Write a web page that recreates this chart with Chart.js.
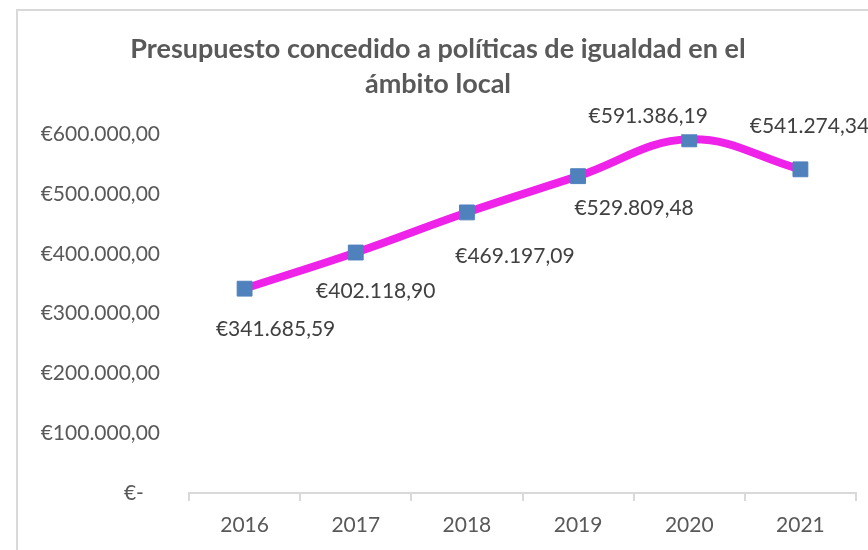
<!DOCTYPE html>
<html>
<head>
<meta charset="utf-8">
<script src="https://cdn.jsdelivr.net/npm/chart.js@4"></script>
<style>
    body { margin: 0; background: white; }
    #frame {
        position: absolute;
        left: 16px;
        top: 9px;
        width: 900px;
        height: 600px;
        border-left: 2px solid #d9d9d9;
        border-top: 2px solid #d9d9d9;
    }
    #wrap { position: absolute; left: 0; top: 0; width: 868px; height: 550px; }
</style>
</head>
<body>
<div id="frame"></div>
<div id="wrap"><canvas id="chart" width="868" height="550"></canvas></div>
<script>
// DATA

const years = ["2016", "2017", "2018", "2019", "2020", "2021"];
const budget = [341685.59, 402118.90, 469197.09, 529809.48, 591386.19, 541274.34];
const yTicks = [0, 100000, 200000, 300000, 400000, 500000, 600000];
const titleLines = ["Presupuesto concedido a políticas de igualdad en el", "ámbito local"];

// label placement next to each point (dx, dy in px), set by hand like in the original
const labelOffsets = [[31, 41], [20, 39], [48, 44], [56, 32], [-41, -23], [9, -43]];

// FUNCTIONS

function formatEuro(value) {
    if (value === 0) {
        return "€-   ";
    }
    const parts = value.toFixed(2).split(".");
    const intPart = parts[0].replace(/\B(?=(\d{3})+(?!\d))/g, ".");
    return "€" + intPart + "," + parts[1];
}

const pointLabels = {
    id: "pointLabels",
    afterDatasetsDraw(chart) {
        const ctx = chart.ctx;
        const meta = chart.getDatasetMeta(0);
        ctx.save();
        ctx.font = "21px Lato";
        ctx.fillStyle = "#404040";
        ctx.textAlign = "center";
        ctx.textBaseline = "middle";
        meta.data.forEach((point, i) => {
            const off = labelOffsets[i];
            ctx.fillText(formatEuro(budget[i]), point.x + off[0], point.y + off[1]);
        });
        ctx.restore();
    }
};

Chart.defaults.font.family = "Lato";
Chart.defaults.color = "#595959";

new Chart(document.getElementById("chart"), {
    type: "line",
    plugins: [pointLabels],
    data: {
        labels: years,
        datasets: [{
            data: budget,
            borderColor: "#EE22E8",
            borderWidth: 8,
            tension: 0.4,
            pointStyle: "rect",
            pointRadius: 10.5,
            pointBackgroundColor: "#4F81BD",
            pointBorderColor: "#4F81BD",
            pointBorderWidth: 1,
        }]
    },
    options: {
        responsive: false,
        animation: false,
        events: [],
        layout: {
            padding: { left: 20, right: 12, top: 0, bottom: 0 }
        },
        scales: {
            x: {
                offset: true,
                grid: {
                    offset: true,
                    drawOnChartArea: false,
                    tickLength: 8,
                    color: "#d9d9d9",
                    lineWidth: 2,
                },
                border: { color: "#d9d9d9", width: 2 },
                ticks: { font: { size: 21 }, padding: 12, color: "#595959" },
                afterFit: scale => { scale.height = 57; }
            },
            y: {
                min: 0,
                max: 600000,
                grid: { display: false, drawTicks: false },
                border: { display: false },
                afterBuildTicks: scale => { scale.ticks = yTicks.map(v => ({ value: v })); },
                ticks: {
                    font: { size: 21 },
                    padding: 29,
                    color: "#595959",
                    callback: value => formatEuro(value),
                },
                afterFit: scale => { scale.width = 169; }
            }
        },
        plugins: {
            legend: { display: false },
            tooltip: { enabled: false },
            title: {
                display: true,
                text: titleLines,
                color: "#595959",
                font: { size: 27, weight: "bold", lineHeight: 1.3 },
                padding: { top: 32, bottom: 32 },
            }
        }
    }
});
</script>
</body>
</html>
